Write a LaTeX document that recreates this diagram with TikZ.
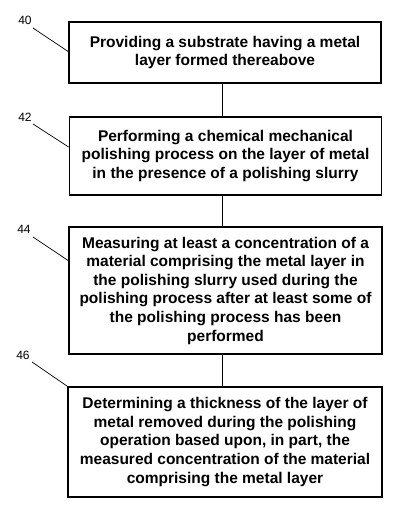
\documentclass[tikz,border=0pt]{standalone}
\usepackage{fontspec}
\setmainfont{Liberation Sans}
\begin{document}
\begin{tikzpicture}[x=1pt,y=-1pt,
  stepbox/.style={draw, line width=1.8pt, minimum width=#1pt, align=center,
    font=\fontsize{15.5}{18.6}\selectfont\bfseries, inner sep=0pt},
  stepbox/.default=312,
  reflabel/.style={font=\fontsize{12}{14}\selectfont, inner sep=0pt},
  leader/.style={line width=0.7pt},
  link/.style={line width=1pt}]
\useasboundingbox (0,0) rectangle (400,518);
\node[stepbox, minimum height=61pt] (b1) at (225,52.5)
  {Providing a substrate having a metal\\layer formed thereabove};
\node[stepbox, minimum height=78pt] (b2) at (225.5,156)
  {Performing a chemical mechanical\\polishing process on the layer of metal\\in the presence of a polishing slurry};
\node[stepbox=313, minimum height=127pt] (b3) at (225.5,290.5)
  {Measuring at least a concentration of a\\material comprising the metal layer in\\the polishing slurry used during the\\polishing process after at least some of\\the polishing process has been\\performed};
\node[stepbox=314, minimum height=110pt] (b4) at (225,442)
  {Determining a thickness of the layer of\\metal removed during the polishing\\operation based upon, in part, the\\measured concentration of the material\\comprising the metal layer};
\coordinate (cx) at (222,0);
\draw[link] (b1.south -| cx) -- (b2.north -| cx);
\draw[link] (b2.south -| cx) -- (b3.north -| cx);
\draw[link] (b3.south -| cx) -- (b4.north -| cx);
\node[reflabel] (l40) at (25,20) {40};
\node[reflabel] (l42) at (25,117) {42};
\node[reflabel] (l44) at (24,229) {44};
\node[reflabel] (l46) at (23,355) {46};
\coordinate (e40) at ([yshift=1pt]b1.west);
\coordinate (e42) at ([yshift=9pt]b2.west);
\coordinate (e44) at ([yshift=30pt]b3.west);
\coordinate (e46) at (b4.north west);
\draw[leader] (33,28) -- (e40);
\draw[leader] (33,124) -- (e42);
\draw[leader] (33,237) -- (e44);
\draw[leader] (32,362) -- (e46);
\end{tikzpicture}
\end{document}
